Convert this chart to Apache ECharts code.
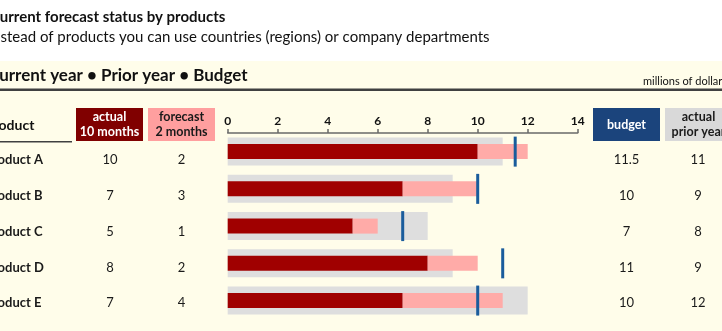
<!DOCTYPE html>
<html>
<head>
<meta charset="utf-8">
<script src="https://cdn.jsdelivr.net/npm/echarts@6/dist/echarts.min.js"></script>
<style>
  html, body { margin: 0; padding: 0; background: #ffffff; }
  #chart { width: 722px; height: 331px; }
</style>
</head>
<body>
<div id="chart"></div>
<script>
// Products and their figures (millions of dollars)
const products = ['Product A', 'Product B', 'Product C', 'Product D', 'Product E'];
const actual10Months = [10, 7, 5, 8, 7];
const forecast2Months = [2, 3, 1, 2, 4];
const budget = [11.5, 10, 7, 11, 10];
const actualPriorYear = [11, 9, 8, 9, 12];
const axisTicks = [0, 2, 4, 6, 8, 10, 12, 14];

const chart = echarts.init(document.getElementById('chart'), null, { renderer: 'canvas' });

const bodyFont = 'Lato, "Open Sans", sans-serif';
const textColor = '#1a1a1a';

// Table text rows beside the bullet bars
const rowY = i => 160 + i * 35.8;
const graphics = [];

// cream panel
graphics.push({ type: 'rect', z: -10, shape: { x: 0, y: 61, width: 722, height: 270 }, style: { fill: '#FFFDEA' } });

// titles
graphics.push({ type: 'text', x: -10, y: 17, style: { text: 'Current forecast status by products', font: 'bold 15px ' + bodyFont, fill: '#111', verticalAlign: 'middle' } });
graphics.push({ type: 'text', x: -12, y: 37, style: { text: 'Instead of products you can use countries (regions) or company departments', font: '15px ' + bodyFont, fill: '#111', verticalAlign: 'middle' } });

// section header
graphics.push({ type: 'text', x: -12, y: 76, style: { text: 'Current year \u2022 Prior year \u2022 Budget', font: 'bold 17px ' + bodyFont, fill: '#111', verticalAlign: 'middle' } });
graphics.push({ type: 'text', x: 643, y: 81, style: { text: 'millions of dollars', font: '11px ' + bodyFont, fill: '#111', verticalAlign: 'middle' } });
graphics.push({ type: 'rect', shape: { x: 0, y: 88.5, width: 722, height: 2.5 }, style: { fill: '#404040' } });

// column headers
graphics.push({ type: 'text', x: -15, y: 125, style: { text: 'Product', font: 'bold 14px ' + bodyFont, fill: '#111', verticalAlign: 'middle' } });
graphics.push({ type: 'rect', shape: { x: 0, y: 141, width: 72, height: 1.5 }, style: { fill: '#404040' } });

const headerBoxes = [
  { x: 76, w: 67, fill: '#800000', color: '#ffffff', text: 'actual\n10 months' },
  { x: 148, w: 67, fill: '#FF9F9F', color: '#1a1a1a', text: 'forecast\n2 months' },
  { x: 593, w: 67, fill: '#1B447C', color: '#ffffff', text: 'budget' },
  { x: 665, w: 67, fill: '#D9D9D9', color: '#1a1a1a', text: 'actual\nprior year' }
];
headerBoxes.forEach(b => {
  graphics.push({ type: 'rect', shape: { x: b.x, y: 108, width: b.w, height: 33 }, style: { fill: b.fill } });
  graphics.push({ type: 'text', x: b.x + b.w / 2, y: 124.5, style: { text: b.text, font: 'bold 12.5px ' + bodyFont, fill: b.color, align: 'center', verticalAlign: 'middle', lineHeight: 15 } });
});

// rows
const columns = [
  { cx: 110, values: actual10Months },
  { cx: 181.5, values: forecast2Months },
  { cx: 626.5, values: budget },
  { cx: 698, values: actualPriorYear }
];
products.forEach((p, i) => {
  graphics.push({ type: 'text', x: -15, y: rowY(i), style: { text: p, font: 'bold 13px ' + bodyFont, fill: textColor, verticalAlign: 'middle' } });
  columns.forEach(c => {
    graphics.push({ type: 'text', x: c.cx, y: rowY(i), style: { text: String(c.values[i]), font: '13px ' + bodyFont, fill: textColor, align: 'center', verticalAlign: 'middle' } });
  });
});

const option = {
  animation: false,
  backgroundColor: 'transparent',
  grid: { left: 227.7, right: 144.3, top: 133, bottom: 11.8 },
  xAxis: {
    type: 'value', position: 'top', min: axisTicks[0], max: axisTicks[axisTicks.length - 1], interval: 2,
    axisLine: { show: true, lineStyle: { color: '#6a6a6a', width: 1.5 } },
    axisTick: { show: true, inside: false, length: 4, lineStyle: { color: '#6a6a6a', width: 1.5 } },
    splitLine: { show: false },
    axisLabel: { fontFamily: bodyFont, fontWeight: 'bold', fontSize: 12, color: '#111', margin: 6 }
  },
  yAxis: [
    { type: 'category', data: products, inverse: true, show: false },
    { type: 'category', data: products, inverse: true, show: false }
  ],
  series: [
    { name: 'actual prior year', type: 'bar', yAxisIndex: 0, barWidth: 28, data: actualPriorYear, itemStyle: { color: '#DEDEDE' }, z: 1 },
    { name: 'actual 10 months', type: 'bar', yAxisIndex: 1, stack: 'current', barWidth: 15, data: actual10Months, itemStyle: { color: '#A00000' }, z: 2 },
    { name: 'forecast 2 months', type: 'bar', yAxisIndex: 1, stack: 'current', barWidth: 15, data: forecast2Months, itemStyle: { color: '#FFABA8' }, z: 2 },
    { name: 'budget', type: 'scatter', yAxisIndex: 0, symbol: 'rect', symbolSize: [3, 30], z: 5,
      data: budget.map((v, i) => [v, products[i]]), itemStyle: { color: '#1A5C9C', opacity: 1 } }
  ],
  graphic: graphics
};

chart.setOption(option);
</script>
</body>
</html>
